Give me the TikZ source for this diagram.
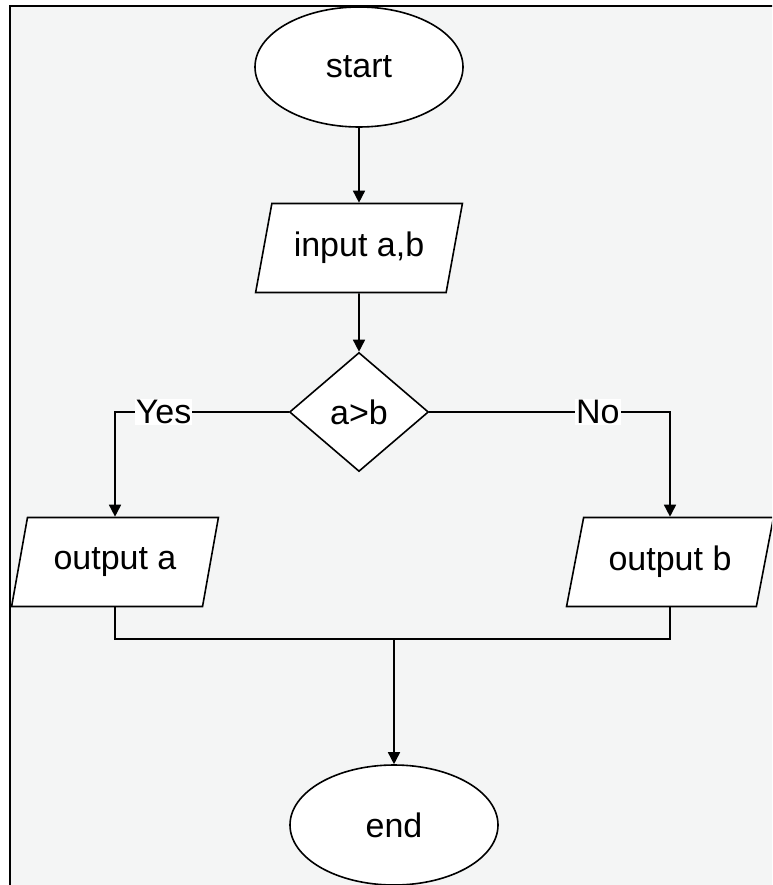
\documentclass[tikz,border=0pt]{standalone}
\usepackage{fontspec}
\setmainfont{Liberation Sans}
\usetikzlibrary{shapes.geometric,arrows.meta}
\definecolor{sheet}{HTML}{F4F5F5}

\begin{document}
\begin{tikzpicture}[x=1pt,y=-1pt,
  every node/.style={font=\fontsize{34}{40}\selectfont},
  term/.style={ellipse,draw,line width=1.6pt,fill=white,minimum width=208pt,minimum height=120pt,inner sep=0pt},
  io/.style={trapezium,trapezium left angle=69,trapezium right angle=111,trapezium stretches=true,draw,line width=1.6pt,fill=white,minimum width=207pt,minimum height=89pt,inner sep=0pt},
  decide/.style={diamond,draw,line width=1.6pt,fill=white,minimum width=139pt,minimum height=119pt,inner sep=0pt},
  flow/.style={line width=1.6pt,-{Triangle[length=12pt,width=12pt]}},
  link/.style={line width=1.6pt},
  tag/.style={fill=white,inner sep=1pt}]
\useasboundingbox (0,0) rectangle (772,885);
\clip (0,0) rectangle (772,885);
% sheet and its frame
\fill[sheet] (10,6) rectangle (790,900);
\draw[line width=2.5pt] (10,900) -- (10,6) -- (790,6);
% boxes
\node[term] (start) at (359,67) {start};
\node[io] (input) at (359,248) {input a,b};
\node[decide] (cmp) at (359,412) {a>b};
\node[io] (outa) at (115,562) {output a};
\node[io] (outb) at (670,562) {output b};
\node[term] (stop) at (394,825) {end};
\coordinate (merge) at (394,639);
% connectors
\draw[flow] (start) -- (input);
\draw[flow] (input) -- (cmp);
\draw[flow] (cmp.west) -| node[tag,pos=0.36] {Yes} (outa.north);
\draw[flow] (cmp.east) -| node[tag,pos=0.35] {No} (outb.north);
\draw[link] (outa.south) |- (merge) -| (outb.south);
\draw[flow] (merge) -- (stop);
\end{tikzpicture}
\end{document}
